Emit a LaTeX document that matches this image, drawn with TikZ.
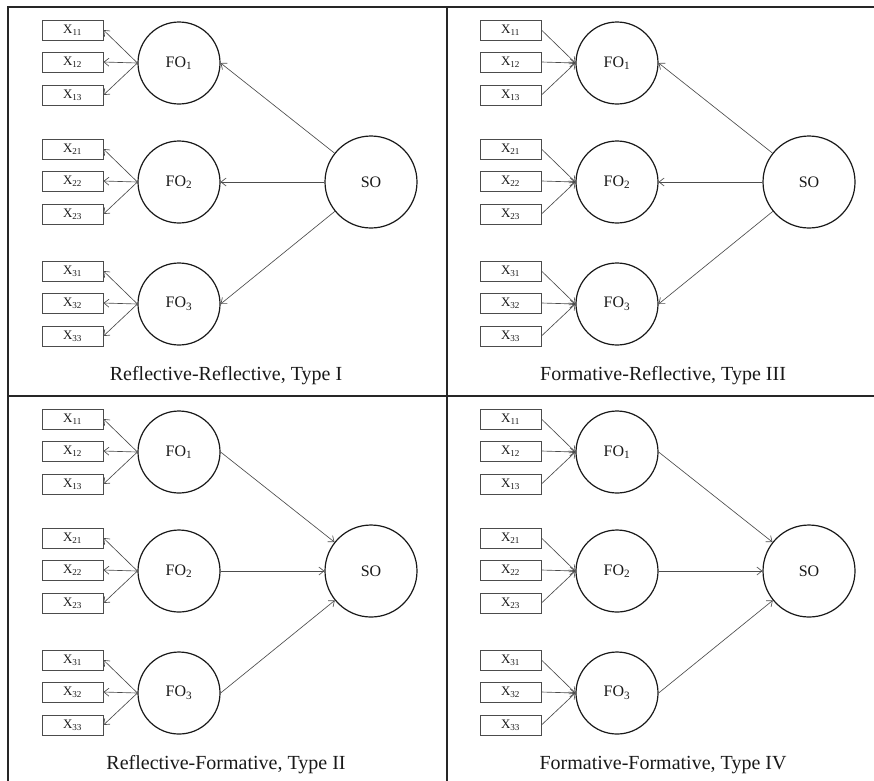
\documentclass[tikz,border=0pt]{standalone}
\usepackage{fontspec}
\setmainfont{Liberation Serif}
\usetikzlibrary{arrows.meta}
\tikzset{
 lat/.style={circle,draw=black!90,line width=1.2pt,minimum size=82pt,inner sep=0pt,font=\fontsize{16}{18}\selectfont,text=black!90},
 so/.style={lat,minimum size=92pt},
 ind/.style={rectangle,draw=black!70,line width=0.9pt,minimum width=61pt,minimum height=20pt,inner sep=0pt,font=\fontsize{13}{15}\selectfont,text=black!90},
 arr/.style={draw=black!70,line width=0.65pt,-{Straight Barb[length=5pt,width=8pt]}},
 captxt/.style={font=\fontsize{20}{24}\selectfont,text=black!90},
 frame/.style={draw=black!85,line width=1.4pt}
}
\newcommand{\sbs}[1]{\textsubscript{#1}}
\begin{document}
\begin{tikzpicture}[x=1pt,y=-1pt]
\useasboundingbox (0,0) rectangle (874,780);
\clip (0,0) rectangle (874,780);
\draw[frame] (8,7) rectangle (886,785);
\draw[frame] (447,7) -- (447,785);
\draw[frame] (8,396) -- (886,396);
\foreach \p/\dx/\dy in {a/0/0,b/438/0,c/0/389,d/438/389} {
  \foreach \i/\fy in {1/63,2/182,3/304} {
    \node[lat] (\p-f\i) at (179+\dx,\fy+\dy) {FO\sbs{\i}};
    \foreach \j/\oy in {1/-33,2/-1,3/32} {
      \node[ind] (\p-x\i\j) at (72.5+\dx,\fy+\dy+\oy) {X\sbs{\i\j}};
    }
  }
  \node[so] (\p-so) at (371+\dx,182+\dy) {SO};
}
\foreach \p in {a,c} \foreach \i in {1,2,3} \foreach \j in {1,2,3}
  \draw[arr] (\p-f\i.west) -- (\p-x\i\j.east);
\foreach \p in {b,d} \foreach \i in {1,2,3} \foreach \j in {1,2,3}
  \draw[arr] (\p-x\i\j.east) -- (\p-f\i.west);
\foreach \p in {a,b} \foreach \i in {1,2,3}
  \draw[arr] (\p-so) -- (\p-f\i.east);
\foreach \p in {c,d} \foreach \i in {1,2,3}
  \draw[arr] (\p-f\i.east) -- (\p-so);
\node[captxt] (capa) at (226,376) {Reflective-Reflective, Type I};
\node[captxt] (capb) at (663,376) {Formative-Reflective, Type III};
\node[captxt] (capc) at (226,765) {Reflective-Formative, Type II};
\node[captxt] (capd) at (663,765) {Formative-Formative, Type IV};
\end{tikzpicture}
\end{document}
